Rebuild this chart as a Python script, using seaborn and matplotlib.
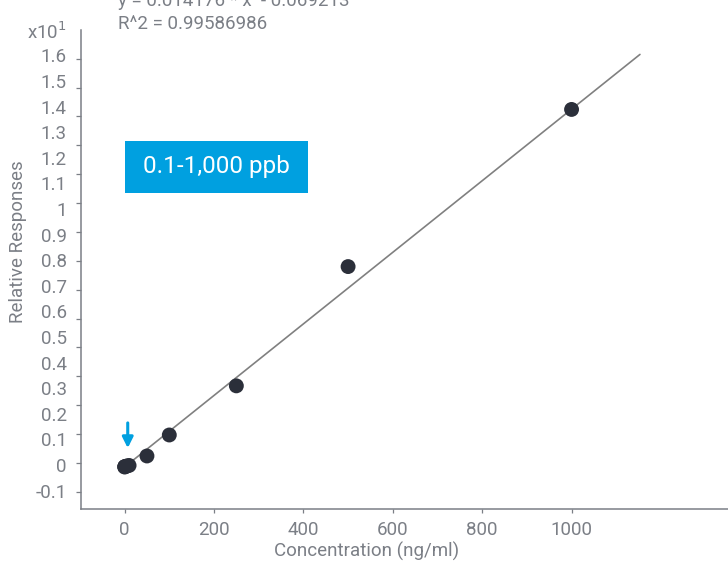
import numpy as np
import pandas as pd
import seaborn as sns
import matplotlib.pyplot as plt
from matplotlib.patches import Rectangle

sns.set_theme(style="ticks")
plt.rcParams['font.family'] = ['Roboto', 'DejaVu Sans']

# calibration points (ng/ml vs response, in x10^1 units)
concentration = [0.1, 0.5, 1, 5, 10, 50, 100, 250, 500, 1000]
response = [-0.008, -0.007, -0.006, -0.004, -0.002, 0.035, 0.117, 0.309, 0.775, 1.389]
y_ticks = [-0.1, 0, 0.1, 0.2, 0.3, 0.4, 0.5, 0.6, 0.7, 0.8, 0.9, 1, 1.1, 1.2, 1.3, 1.4, 1.5, 1.6, 1.7]
y_tick_labels = ['-0.1', '0', '0.1', '0.2', '0.3', '0.4', '0.5', '0.6', '0.7', '0.8', '0.9', '1',
                 '1.1', '1.2', '1.3', '1.4', '1.5', '1.6', 'x10$^{1}$']
x_ticks = [0, 200, 400, 600, 800, 1000]
fit_range = [0, 1153]
equation = 'y = 0.014176 * x  - 0.069213'
r_squared = 'R^2 = 0.99586986'
range_label = '0.1-1,000 ppb'

gray = '#7b7f86'
blue = '#00a0e0'
df = pd.DataFrame({'conc': concentration, 'resp': response})

fig = plt.figure(figsize=(7.28, 5.63), dpi=100)
ax = fig.add_axes([0.111, 0.096, 0.889, 0.851])

# weighted (1/x) linear fit
slope, intercept = np.polyfit(df['conc'], df['resp'], 1, w=1 / np.sqrt(df['conc']))
line_x = np.array(fit_range)
sns.lineplot(x=line_x, y=slope * line_x + intercept, color='#808080', linewidth=1.2, ax=ax)
sns.scatterplot(data=df, x='conc', y='resp', color='#2b2f3a', s=115, edgecolor='none', ax=ax, zorder=3)

ax.set_xlim(-98, 1350)
ax.set_ylim(-0.172, 1.70)
ax.set_xticks(x_ticks)
ax.set_yticks(y_ticks)
ax.set_yticklabels(y_tick_labels)
# the tick marks on the y axis don't line up with the labels in the original
ax.set_yticks(np.linspace(-0.105, 1.70, 17), minor=True)
ax.tick_params(axis='y', which='major', length=0, pad=10, colors=gray, labelsize=13.5)
ax.tick_params(axis='y', which='minor', length=3.5, width=0.9, color=gray)
ax.tick_params(axis='x', length=3, width=0.9, pad=6, colors=gray, labelsize=13.5)
for side in ['top', 'right']:
    ax.spines[side].set_visible(False)
for side in ['left', 'bottom']:
    ax.spines[side].set_color(gray)
    ax.spines[side].set_linewidth(1.1)

ax.set_xlabel('Concentration (ng/ml)', color=gray, fontsize=13.5)
ax.set_ylabel('Relative Responses', color=gray, fontsize=13.5)
ax.xaxis.set_label_coords(0.442, -0.068)
ax.yaxis.set_label_coords(-0.083, 0.557)

fig.text(0.162, 0.998, equation, color=gray, fontsize=13.5, va='center')
fig.text(0.162, 0.958, r_squared, color=gray, fontsize=13.5, va='center')

fig.patches.append(Rectangle((0.1717, 0.6572), 0.2514, 0.0924, transform=fig.transFigure,
                             facecolor=blue, edgecolor='none', zorder=0))
fig.text(0.2974, 0.7034, range_label, color='white', fontsize=17.5, ha='center', va='center')

ax.annotate('', xy=(7, 0.055), xytext=(7, 0.175),
            arrowprops=dict(arrowstyle='-|>', color=blue, lw=2.2, mutation_scale=16))

fig.savefig('out.png', dpi=100)
